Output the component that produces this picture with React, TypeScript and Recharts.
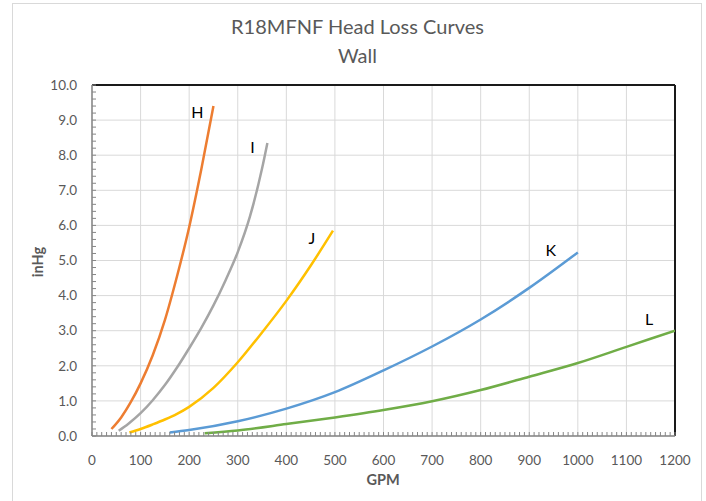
import {
  CartesianGrid,
  LabelList,
  Line,
  LineChart,
  ReferenceLine,
  XAxis,
  YAxis,
} from "recharts";

// curve points: GPM vs head loss (inHg)
const hGpm = [40, 60, 80, 100, 125, 150, 175, 200, 225, 250];
const hLoss = [0.2, 0.53, 0.97, 1.5, 2.3, 3.3, 4.55, 5.95, 7.6, 9.4];

const iGpm = [55, 75, 100, 125, 150, 175, 200, 225, 250, 275, 300, 325, 350, 361];
const iLoss = [0.15, 0.35, 0.65, 1.02, 1.45, 1.95, 2.5, 3.08, 3.72, 4.44, 5.24, 6.25, 7.62, 8.35];

const jGpm = [77, 100, 125, 150, 175, 200, 250, 300, 350, 400, 450, 496];
const jLoss = [0.1, 0.2, 0.33, 0.47, 0.63, 0.83, 1.37, 2.1, 2.95, 3.85, 4.85, 5.85];

const kGpm = [160, 200, 300, 400, 500, 600, 700, 800, 900, 1000];
const kLoss = [0.1, 0.17, 0.42, 0.78, 1.25, 1.87, 2.55, 3.32, 4.22, 5.23];

const lGpm = [232, 300, 400, 500, 600, 700, 800, 900, 1000, 1100, 1200];
const lLoss = [0.08, 0.16, 0.34, 0.53, 0.74, 0.99, 1.31, 1.69, 2.08, 2.54, 3.0];

const xMajor = [0, 100, 200, 300, 400, 500, 600, 700, 800, 900, 1000, 1100, 1200];
const yMajor = [0, 1, 2, 3, 4, 5, 6, 7, 8, 9, 10];

const W = 706;
const H = 501;
const PLOT = { left: 92, top: 85, right: 675, bottom: 436 };
const FONT = "Lato, 'Open Sans', sans-serif";
const TEXT = "#595959";

// minor ticks: 10 per 100 GPM, 5 per 1.0 inHg
const xTicks = Array.from({ length: 121 }, (_, i) => i * 10);
const yTicks = Array.from({ length: 51 }, (_, i) => Math.round(i * 2) / 10);

const toRows = (gpm: number[], loss: number[], tag: string) =>
  gpm.map((g, i) => ({ gpm: g, loss: loss[i], tag: i === gpm.length - 1 ? tag : "" }));

const curves = [
  { name: "H", rows: toRows(hGpm, hLoss, "H"), color: "#ED7D31", dx: -16, dy: 5 },
  { name: "I", rows: toRows(iGpm, iLoss, "I"), color: "#A5A5A5", dx: -15, dy: 4 },
  { name: "J", rows: toRows(jGpm, jLoss, "J"), color: "#FFC000", dx: -21, dy: 7 },
  { name: "K", rows: toRows(kGpm, kLoss, "K"), color: "#5B9BD5", dx: -27, dy: -3 },
  { name: "L", rows: toRows(lGpm, lLoss, "L"), color: "#70AD47", dx: -26, dy: -12 },
];

function XTick(props: any) {
  const { x, y, payload } = props;
  const v = payload.value;
  return (
    <g>
      <line x1={x} x2={x} y1={PLOT.bottom} y2={PLOT.bottom - 4} stroke="#868686" strokeWidth={1} />
      {v % 100 === 0 && (
        <text x={x} y={y} dy="0.71em" textAnchor="middle" fill={TEXT} fontSize={13.5} fontFamily={FONT}>
          {v}
        </text>
      )}
    </g>
  );
}

function YTick(props: any) {
  const { x, y, payload } = props;
  const v = payload.value;
  const major = yMajor.includes(v);
  return (
    <g>
      <line x1={PLOT.left} x2={PLOT.left + 4} y1={y} y2={y} stroke="#868686" strokeWidth={1} />
      {major && (
        <text x={x} y={y} dy="0.355em" textAnchor="end" fill={TEXT} fontSize={13.5} fontFamily={FONT}>
          {v.toFixed(1)}
        </text>
      )}
    </g>
  );
}

export default function App() {
  return (
    <div style={{ position: "absolute", left: 0, top: 0, width: W, height: H, background: "#fff" }}>
      <div
        style={{
          position: "absolute",
          left: 12,
          top: 3,
          width: 690,
          height: 500,
          border: "1px solid #d9d9d9",
          boxSizing: "border-box",
        }}
      />
      <div
        style={{
          position: "absolute",
          left: 12,
          width: 691,
          top: 12,
          textAlign: "center",
          fontFamily: FONT,
          fontSize: 20,
          lineHeight: "29px",
          color: TEXT,
        }}
      >
        R18MFNF Head Loss Curves
        <br />
        Wall
      </div>
      <LineChart
        width={W}
        height={H}
        margin={{ top: PLOT.top, right: W - PLOT.right, bottom: 15, left: 12 }}
        style={{ position: "absolute", left: 0, top: 0 }}
      >
        <CartesianGrid stroke="#d9d9d9" strokeWidth={1} horizontalValues={yMajor} verticalValues={xMajor} />
        <XAxis
          type="number"
          dataKey="gpm"
          domain={[0, 1200]}
          ticks={xTicks}
          interval={0}
          tick={<XTick />}
          tickLine={false}
          tickSize={6}
          tickMargin={13}
          height={50}
          allowDataOverflow
          axisLine={{ stroke: "#868686", strokeWidth: 1.5 }}
        />
        <YAxis
          type="number"
          domain={[0, 10]}
          ticks={yTicks}
          interval={0}
          tick={<YTick />}
          tickLine={false}
          tickSize={6}
          tickMargin={9}
          width={PLOT.left - 12}
          allowDataOverflow
          axisLine={{ stroke: "#868686", strokeWidth: 1.5 }}
        />
        <ReferenceLine y={10} stroke="#1a1a1a" strokeWidth={2} />
        <ReferenceLine x={1200} stroke="#1a1a1a" strokeWidth={2} />
        {curves.map((c) => (
          <Line
            key={c.name}
            data={c.rows}
            dataKey="loss"
            type="monotone"
            stroke={c.color}
            strokeWidth={2.5}
            dot={false}
            isAnimationActive={false}
          >
            <LabelList
              dataKey="tag"
              content={(p: any) =>
                p.value ? (
                  <text
                    x={p.x + c.dx}
                    y={p.y + c.dy}
                    textAnchor="middle"
                    dominantBaseline="central"
                    fontSize={16}
                    fontFamily={FONT}
                    fill="#000"
                  >
                    {p.value}
                  </text>
                ) : null
              }
            />
          </Line>
        ))}
      </LineChart>
      <div
        style={{
          position: "absolute",
          left: 38 - 30,
          top: 262 - 10,
          width: 60,
          height: 20,
          lineHeight: "20px",
          textAlign: "center",
          transform: "rotate(-90deg)",
          fontFamily: FONT,
          fontWeight: 700,
          fontSize: 14.5,
          color: TEXT,
        }}
      >
        inHg
      </div>
      <div
        style={{
          position: "absolute",
          left: 383 - 40,
          top: 480 - 10,
          width: 80,
          height: 20,
          lineHeight: "20px",
          textAlign: "center",
          fontFamily: FONT,
          fontWeight: 700,
          fontSize: 14.5,
          color: TEXT,
        }}
      >
        GPM
      </div>
    </div>
  );
}
